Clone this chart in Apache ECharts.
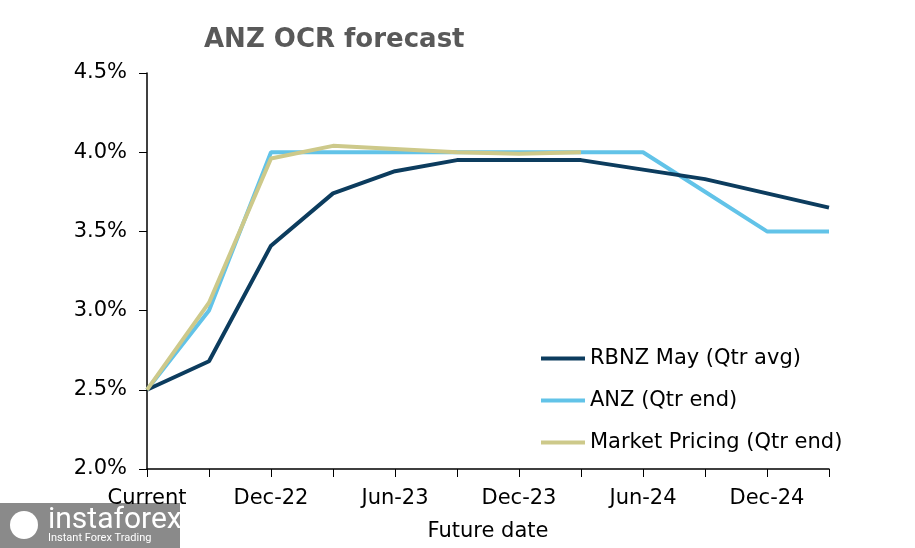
<!DOCTYPE html>
<html><head><meta charset="utf-8">
<script src="https://cdn.jsdelivr.net/npm/echarts@6/dist/echarts.min.js"></script>
<style>html,body{margin:0;padding:0;background:#fff}#c{width:915px;height:548px}</style>
</head><body><div id="c"></div>
<script>
const categories = ['Current','Sep-22','Dec-22','Mar-23','Jun-23','Sep-23','Dec-23','Mar-24','Jun-24','Sep-24','Dec-24','Mar-25'];
const rbnz = [2.50, 2.68, 3.41, 3.74, 3.88, 3.95, 3.95, 3.95, 3.89, 3.83, 3.74, 3.65];
const anz = [2.50, 3.00, 4.00, 4.00, 4.00, 4.00, 4.00, 4.00, 4.00, 3.75, 3.50, 3.50];
const market = [2.50, 3.05, 3.96, 4.04, 4.02, 4.00, 3.99, 4.00, null, null, null, null];
const yTicks = [2.0, 2.5, 3.0, 3.5, 4.0, 4.5];

const font = 'DejaVu Sans, Verdana, sans-serif';
const fs = 21;
const chart = echarts.init(document.getElementById('c'));
chart.setOption({
  animation: false,
  title: {text: 'ANZ OCR forecast', left: 199, top: 22,
    textStyle: {fontFamily: font, fontSize: 26, fontWeight: 'bold', color: '#595959'}},
  grid: {left: 147, right: 86, top: 73, bottom: 79},
  legend: {orient: 'vertical', left: 536, top: 343, itemWidth: 44, itemHeight: 4, itemGap: 21,
    icon: 'rect',
    textStyle: {fontFamily: font, fontSize: fs, color: '#000'},
    data: ['RBNZ May (Qtr avg)', 'ANZ (Qtr end)', 'Market Pricing (Qtr end)']},
  xAxis: {type: 'category', data: categories, boundaryGap: false,
    name: 'Future date', nameLocation: 'middle', nameGap: 52,
    nameTextStyle: {fontFamily: font, fontSize: fs, color: '#000'},
    axisLine: {lineStyle: {color: '#000', width: 1.5}},
    axisTick: {show: true, interval: 0, length: 8, lineStyle: {color: '#000'}},
    axisLabel: {interval: 1, margin: 19, fontFamily: font, fontSize: fs, color: '#000'},
    splitLine: {show: false}},
  yAxis: {type: 'value', min: yTicks[0], max: yTicks[yTicks.length-1], interval: 0.5,
    axisLine: {show: true, lineStyle: {color: '#000', width: 1.5}},
    axisTick: {show: true, length: 8, lineStyle: {color: '#000'}},
    axisLabel: {margin: 20, fontFamily: font, fontSize: fs, color: '#000',
      formatter: v => v.toFixed(1) + '%'},
    splitLine: {show: false}},
  series: [
    {name: 'RBNZ May (Qtr avg)', type: 'line', data: rbnz, symbol: 'none',
      lineStyle: {width: 4, color: '#0c3c5e'}, itemStyle: {color: '#0c3c5e'}, z: 3},
    {name: 'ANZ (Qtr end)', type: 'line', data: anz, symbol: 'none',
      lineStyle: {width: 4, color: '#62c3e8'}, itemStyle: {color: '#62c3e8'}, z: 2},
    {name: 'Market Pricing (Qtr end)', type: 'line', data: market, symbol: 'none',
      lineStyle: {width: 4, color: '#cdc98a'}, itemStyle: {color: '#cdc98a'}, z: 4}
  ],
  graphic: [
    {type: 'rect', left: 0, top: 503, shape: {width: 180, height: 45}, style: {fill: '#8a8a8a'}},
    {type: 'text', left: 48, top: 505, style: {text: 'instaforex', fill: '#fff', font: '30px Roboto, sans-serif'}},
    {type: 'text', left: 48, top: 533, style: {text: 'Instant Forex Trading', fill: '#fff', font: '11px Roboto, sans-serif'}},
    {type: 'circle', shape: {cx: 24, cy: 525, r: 14}, style: {fill: '#fff'}}
  ]
});
</script></body></html>
